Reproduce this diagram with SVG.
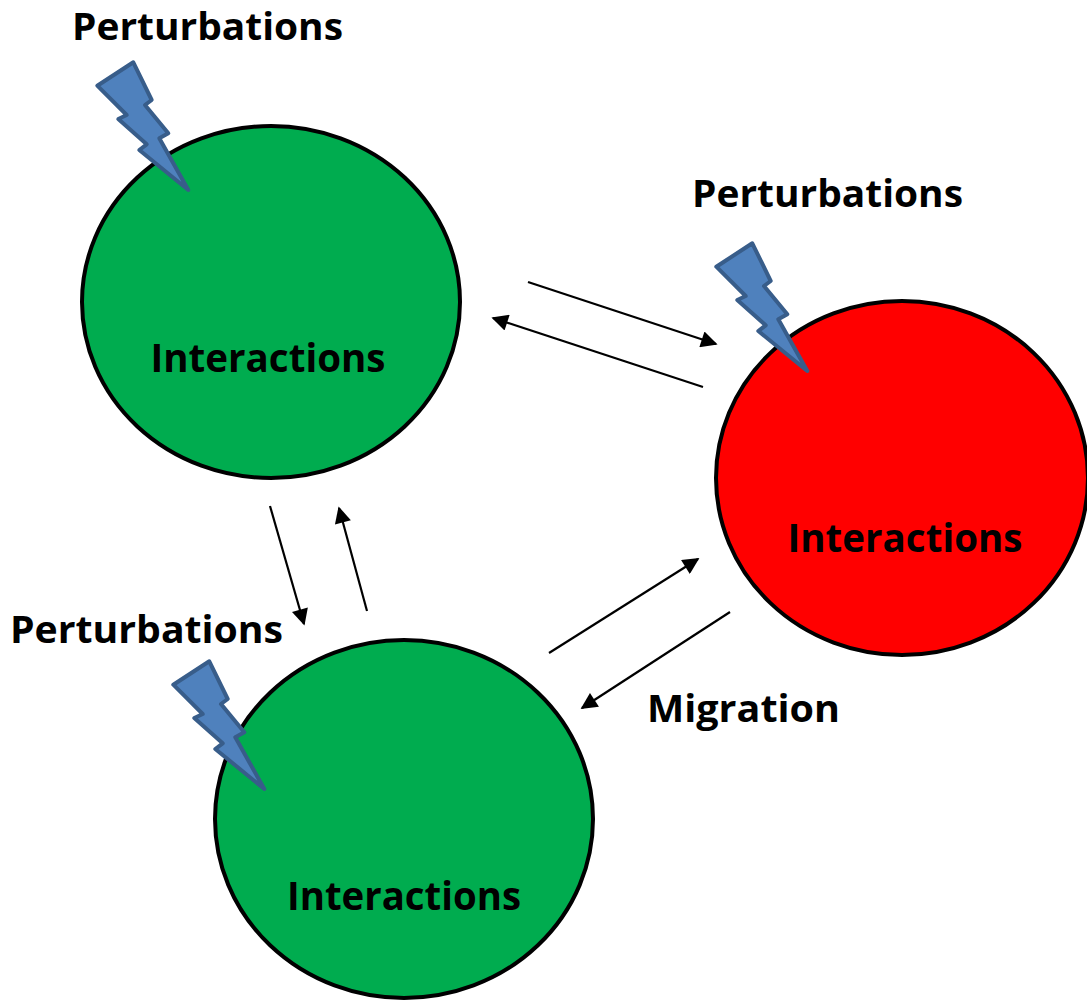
<svg xmlns="http://www.w3.org/2000/svg" width="1087" height="1000" viewBox="0 0 1087 1000">
<style>
.node{stroke:#000;stroke-width:4}
.green{fill:#00AC4F}
.red{fill:#FF0000}
.lbl{font-family:"Open Sans","Liberation Sans",sans-serif;font-weight:700;font-size:38px;fill:#000}
.big{font-size:40px}
.bolt{fill:#4F81BD;stroke:#385D8A;stroke-width:4;stroke-linejoin:round}
.arr{stroke:#000;stroke-width:2.2;fill:none;marker-end:url(#ah)}
</style>
<defs>
<marker id="ah" viewBox="0 0 10 10" refX="9" refY="5" markerWidth="8.5" markerHeight="7.5" markerUnits="strokeWidth" orient="auto">
<path d="M0,0 L10,5 L0,10 z" fill="#000"/>
</marker>
<polygon id="boltShape" points="97.3,85.7 133.3,62.3 151.7,100 145,105 168.3,133.3 159.3,138.3 188.3,190 139.3,150 146.7,144.3 118.3,119 126.7,115"/>
</defs>
<rect width="1087" height="1000" fill="#fff"/>

<g id="node-top-left">
<ellipse class="node green" cx="271" cy="302" rx="189" ry="176"/>
<text class="lbl big" x="268" y="372" text-anchor="middle" textLength="235" lengthAdjust="spacingAndGlyphs">Interactions</text>
</g>
<g id="node-right">
<ellipse class="node red" cx="902" cy="478" rx="186" ry="177"/>
<text class="lbl big" x="905" y="552" text-anchor="middle" textLength="235" lengthAdjust="spacingAndGlyphs">Interactions</text>
</g>
<g id="node-bottom">
<ellipse class="node green" cx="404" cy="819" rx="189" ry="179"/>
<text class="lbl big" x="404" y="910" text-anchor="middle" textLength="234" lengthAdjust="spacingAndGlyphs">Interactions</text>
</g>

<g id="perturbation-top-left">
<use href="#boltShape" class="bolt"/>
<text class="lbl" x="72" y="40" textLength="271" lengthAdjust="spacingAndGlyphs">Perturbations</text>
</g>
<g id="perturbation-right">
<use href="#boltShape" class="bolt" transform="translate(619,181)"/>
<text class="lbl" x="692" y="207" textLength="271" lengthAdjust="spacingAndGlyphs">Perturbations</text>
</g>
<g id="perturbation-bottom">
<use href="#boltShape" class="bolt" transform="translate(76,599)"/>
<text class="lbl" x="10" y="643" textLength="273" lengthAdjust="spacingAndGlyphs">Perturbations</text>
</g>

<g id="connectors">
<line class="arr" x1="528" y1="282" x2="716" y2="344"/>
<line class="arr" x1="703" y1="387" x2="493" y2="318"/>
<line class="arr" x1="270" y1="506" x2="304" y2="624"/>
<line class="arr" x1="367" y1="611" x2="339" y2="508"/>
<line class="arr" x1="549" y1="653" x2="698" y2="559"/>
<line class="arr" x1="730" y1="612" x2="582" y2="708"/>
</g>
<g id="label-migration">
<text class="lbl" x="647" y="722" textLength="193" lengthAdjust="spacingAndGlyphs">Migration</text>
</g>
</svg>
